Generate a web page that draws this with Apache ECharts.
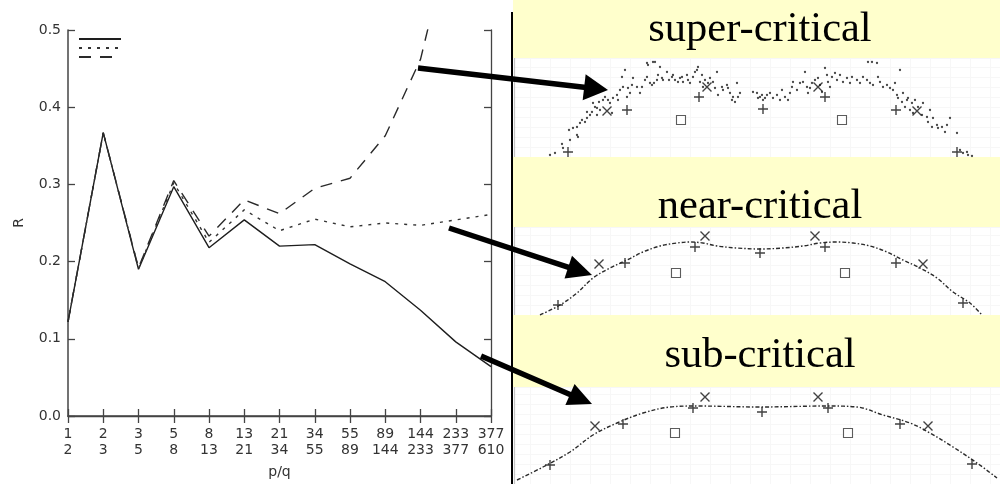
<!DOCTYPE html>
<html>
<head>
<meta charset="utf-8">
<script src="https://cdn.jsdelivr.net/npm/echarts@6/dist/echarts.min.js"></script>
<style>
  html, body { margin: 0; padding: 0; background: #fff; }
  #chart { width: 1000px; height: 484px; }
</style>
</head>
<body>
<div id="chart"></div>
<script>
// Winding-number ratios p/q (Fibonacci convergents)
const pNum = [1, 2, 3, 5, 8, 13, 21, 34, 55, 89, 144, 233, 377];
const qDen = [2, 3, 5, 8, 13, 21, 34, 55, 89, 144, 233, 377, 610];
const yTicks = [0, 0.1, 0.2, 0.3, 0.4, 0.5];

// Residue R for each regime
const rSub   = [0.122, 0.367, 0.190, 0.297, 0.218, 0.254, 0.220, 0.222, 0.197, 0.174, 0.137, 0.096, 0.064];
const rNear  = [0.122, 0.367, 0.191, 0.302, 0.225, 0.267, 0.240, 0.255, 0.245, 0.250, 0.247, 0.254, 0.261];
const rSuper = [0.122, 0.367, 0.192, 0.305, 0.233, 0.280, 0.262, 0.295, 0.308, 0.363, 0.462, 0.650, 0.850];

// Phase-space sections: super-critical (chaotic cloud of orbit points)
const superDots = [
  [4.0,0.2],[4.5,0.4],[5.2,1.3],[5.3,0.9],[6.0,1.7],[5.9,2.7],[6.3,2.9],[6.7,2.2],[6.8,2.0],[6.7,3.0],
  [7.0,3.4],[7.2,3.7],[7.5,3.5],[7.7,3.9],[7.7,4.5],[8.0,4.2],[8.2,4.5],[8.3,5.4],[8.5,5.0],[8.7,4.2],
  [8.7,4.9],[8.9,5.5],[9.0,4.7],[9.3,5.7],[9.5,6.0],[9.8,5.7],[10.0,5.4],[10.2,4.4],[10.3,5.9],[10.7,6.2],
  [10.8,5.7],[11.0,6.7],[11.2,8.0],[11.3,7.0],[11.5,8.7],[11.7,6.0],[11.8,6.9],[12.0,6.4],[12.2,7.2],[12.3,7.9],
  [12.7,7.0],[13.0,6.4],[13.2,7.0],[13.5,7.7],[13.7,8.0],[13.7,9.4],[13.8,9.2],[14.0,7.4],[14.2,7.2],[14.3,9.5],
  [14.4,7.4],[14.5,9.5],[14.7,7.7],[14.8,8.2],[15.0,9.0],[15.2,7.9],[15.3,7.7],[15.7,8.5],[15.9,7.7],[16.2,8.0],
  [16.3,8.2],[16.5,7.7],[16.8,7.5],[17.0,7.9],[17.2,8.0],[17.3,7.5],[17.7,8.2],[17.8,7.7],[18.0,7.4],[18.3,8.0],
  [18.5,8.5],[18.7,8.7],[18.8,9.0],[19.0,7.5],[19.2,8.2],[19.3,7.0],[19.5,7.7],[19.8,7.4],[20.0,7.9],[20.3,7.5],
  [20.5,6.9],[20.7,8.5],[20.8,6.2],[21.2,7.0],[21.3,6.7],[21.7,7.2],[21.8,6.9],[22.0,6.4],[22.2,5.7],[22.3,6.0],
  [22.5,5.5],[22.7,7.4],[22.8,6.0],[23.0,6.4],
  [24.3,6.5],[24.7,6.4],[24.8,5.9],[25.0,6.0],[25.2,6.2],[25.3,5.7],[25.5,5.9],[25.7,6.2],[26.0,6.4],[26.3,5.9],
  [26.7,6.2],[27.0,5.7],[27.2,6.7],[27.5,6.0],[27.8,5.7],[28.0,6.4],[28.2,7.0],[28.3,7.5],[28.7,6.7],[29.0,7.4],
  [29.3,7.5],[29.5,8.5],[29.7,7.0],[29.8,6.4],[30.0,6.9],[30.2,7.4],[30.5,7.7],[30.8,7.9],[31.0,7.2],[31.2,6.5],
  [31.5,8.9],[31.7,8.2],[31.8,7.5],[32.0,7.0],[32.2,8.0],[32.5,8.4],[32.7,7.7],[33.0,8.2],[33.3,7.5],[33.7,7.9],
  [34.0,7.4],[34.2,8.0],[34.7,7.7],[35.0,7.4],[35.3,8.0],[35.7,7.7],[35.8,9.5],[36.0,7.4],[36.2,9.5],[36.3,7.2],
  [36.7,9.4],[36.8,8.0],[37.0,7.5],[37.3,7.0],[37.7,7.2],[38.0,6.9],[38.3,6.7],[38.5,7.4],[38.7,6.2],[38.8,5.9],
  [39.0,8.7],[39.2,5.5],[39.3,6.4],[39.5,5.0],[39.7,5.7],[39.8,5.9],[40.0,4.7],[40.2,5.4],[40.3,4.4],[40.5,5.7],
  [40.8,5.0],[41.2,4.2],[41.3,5.4],[41.7,4.0],[41.8,3.5],[42.0,4.7],[42.2,3.0],[42.3,3.9],[42.7,3.2],[42.8,2.9],
  [43.2,3.0],[43.5,2.5],[43.7,3.2],[44.0,3.9],[44.7,2.4],[45.0,0.7],[45.3,0.4],[45.7,0.5],[45.8,0.2],[46.2,0.1]
];
const superPlus   = [[5.8,0.5],[11.7,4.7],[18.9,6.0],[25.3,4.8],[31.5,6.0],[38.6,4.7],[44.7,0.5]];
const superCross  = [[9.7,4.6],[19.7,7.0],[30.8,7.0],[40.7,4.6]];
const superSquare = [[17.1,3.7],[33.2,3.7]];

// near-critical: invariant curve and periodic orbits
const nearCurve = [
  [3.0,0.0],[5.0,1.0],[6.7,2.2],[8.3,3.7],[10.0,4.7],[11.7,5.5],[13.3,6.3],[15.0,6.9],[16.7,7.2],[18.0,7.3],
  [19.3,7.2],[20.7,6.9],[22.7,6.7],[25.0,6.6],[27.3,6.7],[29.3,6.9],[31.0,7.2],[32.7,7.3],[34.3,7.2],[36.0,6.9],
  [37.7,6.3],[39.3,5.5],[41.0,4.7],[42.7,3.7],[44.3,2.3],[46.0,1.2],[47.2,0.0]
];
const nearPlus   = [[4.8,1.0],[11.5,5.2],[18.5,6.8],[25.0,6.2],[31.5,6.8],[38.6,5.2],[45.3,1.2]];
const nearCross  = [[8.9,5.1],[19.5,7.9],[30.5,7.9],[41.3,5.1]];
const nearSquare = [[16.6,4.2],[33.5,4.2]];

// sub-critical: invariant curve and periodic orbits
const subCurve = [
  [0.7,0.4],[3.3,1.7],[6.0,3.2],[8.3,4.9],[10.7,6.1],[13.3,7.1],[16.0,7.7],[18.7,7.8],[25.0,7.7],[31.7,7.8],
  [34.7,7.7],[37.3,6.9],[40.0,6.1],[42.0,5.1],[44.3,3.7],[46.7,2.1],[48.7,0.6]
];
const subPlus   = [[4.0,1.9],[11.3,6.0],[18.3,7.6],[25.2,7.2],[31.8,7.6],[39.0,6.0],[46.2,2.0]];
const subCross  = [[8.5,5.8],[19.5,8.7],[30.8,8.7],[41.8,5.8]];
const subSquare = [[16.5,5.1],[33.8,5.1]];

const panelTitles = ['super-critical', 'near-critical', 'sub-critical'];

// ---------------------------------------------------------------------------
const categories = pNum.map((p, i) => p + '\n' + qDen[i]);
const INK = '#111';
const AX = '#444';
const labelFont = { fontFamily: 'DejaVu Sans', fontSize: 14, color: '#333' };

const PLUS = 'path://M0,5L10,5M5,0L5,10';
const CROSS = 'path://M0,0L10,10M10,0L0,10';

// Right-hand panel frames (pixel layout only)
const panels = [
  { top: 58, height: 99, ymax: 9.9 },
  { top: 227, height: 88, ymax: 8.8 },
  { top: 387, height: 97, ymax: 9.7 }
];

const grids = [{ left: 68, right: 509, top: 30, bottom: 64 }];
const xAxes = [
  {
    type: 'category', gridIndex: 0, data: categories, boundaryGap: false,
    axisLine: { lineStyle: { color: AX, width: 1.5 } },
    axisTick: { inside: true, length: 7, lineStyle: { color: AX, width: 1.3 } },
    axisLabel: Object.assign({ margin: 10, lineHeight: 16, interval: 0 }, labelFont),
    name: 'p/q', nameLocation: 'middle', nameGap: 49,
    nameTextStyle: { fontFamily: 'DejaVu Sans', fontSize: 14, color: '#333' },
    splitLine: { show: false }
  },
  {
    type: 'category', gridIndex: 0, data: categories, boundaryGap: false, position: 'top',
    axisLine: { lineStyle: { color: AX, width: 1.3 } },
    axisTick: { inside: true, length: 7, lineStyle: { color: AX, width: 1.3 } },
    axisLabel: { show: false }, splitLine: { show: false }
  }
];
const yAxes = [
  {
    type: 'value', gridIndex: 0, min: yTicks[0], max: yTicks[yTicks.length - 1], interval: 0.1,
    axisLine: { show: true, lineStyle: { color: AX, width: 1.5 } },
    axisTick: { show: true, inside: true, length: 7, lineStyle: { color: AX, width: 1.3 } },
    axisLabel: Object.assign({ margin: 7, formatter: v => v.toFixed(1) }, labelFont),
    splitLine: { show: false },
    name: 'R', nameLocation: 'middle', nameGap: 42,
    nameTextStyle: { fontFamily: 'DejaVu Sans', fontSize: 14, color: '#333' }
  },
  {
    type: 'value', gridIndex: 0, position: 'right', min: 0, max: 0.5, interval: 0.1,
    axisLine: { show: true, lineStyle: { color: AX, width: 1.3 } },
    axisTick: { show: true, inside: true, length: 7, lineStyle: { color: AX, width: 1.3 } },
    axisLabel: { show: false }, splitLine: { show: false }
  }
];

// Panel axes follow the two axes of the main grid, so panel k uses axis index k + 1
panels.forEach((p, i) => {
  grids.push({ left: 514, right: 0, top: p.top, height: p.height });
  xAxes.push({
    type: 'value', gridIndex: i + 1, min: 0.4, max: 49,
    axisLine: { show: false }, axisTick: { show: false }, axisLabel: { show: false },
    splitNumber: 30, splitLine: { show: true, lineStyle: { color: '#f7f7f7', width: 1 } }
  });
  yAxes.push({
    type: 'value', gridIndex: i + 1, min: 0, max: p.ymax,
    axisLine: { show: true, onZero: false, lineStyle: { color: '#c4c4c4', width: 1.2 } },
    axisTick: { show: false }, axisLabel: { show: false },
    splitNumber: 9, splitLine: { show: true, lineStyle: { color: '#f7f7f7', width: 1 } }
  });
});

function rLine(name, data, type, color) {
  return {
    name, type: 'line', xAxisIndex: 0, yAxisIndex: 0, data,
    symbol: 'none', showSymbol: false, clip: true, animation: false,
    lineStyle: { color, width: 1.4, type }, itemStyle: { color }
  };
}
function marks(panel, data, symbol, size, opts) {
  return Object.assign({
    type: 'scatter', xAxisIndex: panel + 1, yAxisIndex: panel + 1, data, symbol, symbolSize: size,
    animation: false, silent: true,
    itemStyle: { color: 'rgba(0,0,0,0)', borderColor: INK, borderWidth: 1.4 }
  }, opts || {});
}
function curve(panel, data) {
  return {
    type: 'line', xAxisIndex: panel + 1, yAxisIndex: panel + 1, data, smooth: 0.35,
    symbol: 'none', animation: false, silent: true,
    lineStyle: { color: '#2a2a2a', width: 1.4, type: [4, 2, 1.5, 2] }
  };
}
const hollow = { itemStyle: { color: '#fff', borderColor: '#333', borderWidth: 1.1 } };

const series = [
  rLine('sub-critical', rSub, 'solid', '#1e1e1e'),
  rLine('near-critical', rNear, [3, 6], '#333'),
  rLine('super-critical', rSuper, [12, 9], '#2a2a2a'),

  marks(1, superDots, 'circle', 2.3, { itemStyle: { color: '#1a1a1a' } }),
  marks(1, superPlus, PLUS, 10),
  marks(1, superCross, CROSS, 9),
  marks(1, superSquare, 'rect', 9, hollow),

  curve(2, nearCurve),
  marks(2, nearPlus, PLUS, 10),
  marks(2, nearCross, CROSS, 9),
  marks(2, nearSquare, 'rect', 9, hollow),

  curve(3, subCurve),
  marks(3, subPlus, PLUS, 10),
  marks(3, subCross, CROSS, 9),
  marks(3, subSquare, 'rect', 9, hollow)
];

// Annotation arrows from each curve to its phase-space panel
function arrow(x0, y0, x1, y1, headLen, headW) {
  const dx = x1 - x0, dy = y1 - y0, L = Math.hypot(dx, dy);
  const ux = dx / L, uy = dy / L, nx = -uy, ny = ux;
  const bx = x1 - ux * headLen, by = y1 - uy * headLen;
  return [
    { type: 'line', z: 100, shape: { x1: x0, y1: y0, x2: bx + ux * 2, y2: by + uy * 2 },
      style: { stroke: '#000', lineWidth: 5.5 } },
    { type: 'polygon', z: 100, shape: { points: [[x1, y1], [bx + nx * headW / 2, by + ny * headW / 2], [bx - nx * headW / 2, by - ny * headW / 2]] },
      style: { fill: '#000' } }
  ];
}

const bands = [
  { y: 0, h: 58, ty: 30 },
  { y: 157, h: 70, ty: 207 },
  { y: 315, h: 72, ty: 356 }
];
const graphic = [
  { type: 'line', z: 50, shape: { x1: 512, y1: 12, x2: 512, y2: 484 }, style: { stroke: '#000', lineWidth: 2 } }
];
bands.forEach((b, i) => {
  graphic.push({ type: 'rect', z: 1, shape: { x: 513, y: b.y, width: 487, height: b.h }, style: { fill: '#ffffcc' } });
  graphic.push({ type: 'text', z: 60, style: {
    text: panelTitles[i], x: 760, y: b.ty, align: 'center', verticalAlign: 'middle',
    fontFamily: 'Liberation Serif', fontSize: 42.5, fill: '#000' } });
});
graphic.push(...arrow(418, 68, 608, 90, 24, 26));
graphic.push(...arrow(449, 228, 592, 275, 25, 24));
graphic.push(...arrow(481, 356, 592, 404, 24, 23));

const chart = echarts.init(document.getElementById('chart'), null, { renderer: 'canvas' });
chart.setOption({
  backgroundColor: '#fff',
  animation: false,
  legend: {
    data: ['sub-critical', 'near-critical', 'super-critical'],
    orient: 'vertical', left: 78, top: 34, padding: 0,
    itemWidth: 42, itemHeight: 10, itemGap: 0,
    itemStyle: { opacity: 0 },
    formatter: () => '', selectedMode: false,
    textStyle: { fontSize: 1 }
  },
  grid: grids,
  xAxis: xAxes,
  yAxis: yAxes,
  series,
  graphic
});
</script>
</body>
</html>
